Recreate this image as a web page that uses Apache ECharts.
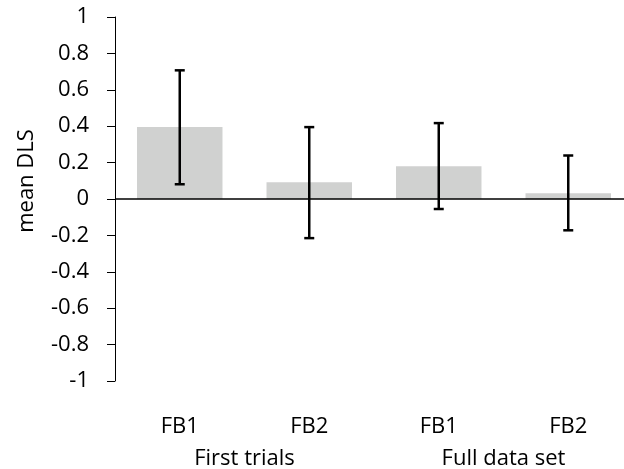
<!DOCTYPE html>
<html>
<head>
<meta charset="utf-8">
<script src="https://cdn.jsdelivr.net/npm/echarts@6/dist/echarts.min.js"></script>
<style>html,body{margin:0;padding:0;background:#fff}#c{width:624px;height:469px}</style>
</head>
<body>
<div id="c"></div>
<script>
var categories = ['FB1', 'FB2', 'FB1', 'FB2'];
var groups = ['First trials', 'Full data set'];
var means = [0.395, 0.092, 0.18, 0.031];
var errLow = [0.081, -0.215, -0.055, -0.172];
var errHigh = [0.707, 0.395, 0.417, 0.239];

var FONT = 'Open Sans';
var chart = echarts.init(document.getElementById('c'));
var errData = categories.map(function (c, i) { return [i, errLow[i], errHigh[i]]; });

chart.setOption({
  animation: false,
  grid: { left: 115, width: 518, top: 17, height: 364, containLabel: false, outerBoundsMode: 'none' },
  xAxis: [
    {
      type: 'category', data: categories,
      axisLine: { show: false, onZero: false }, axisTick: { show: false },
      axisLabel: { color: '#000', fontFamily: FONT, fontSize: 22, margin: 35 }
    },
    {
      type: 'category', data: groups, position: 'bottom', offset: 0,
      axisLine: { show: false, onZero: false }, axisTick: { show: false },
      axisLabel: { color: '#000', fontFamily: FONT, fontSize: 22, margin: 67 }
    }
  ],
  yAxis: {
    type: 'value', min: -1, max: 1, interval: 0.2,
    name: 'mean DLS', nameLocation: 'middle', nameGap: 77, nameRotate: 90,
    nameTextStyle: { color: '#000', fontFamily: FONT, fontSize: 22, padding: [0, 0, 0, 36] },
    axisLine: { show: true, lineStyle: { color: '#000', width: 1 } },
    axisTick: { show: true, inside: false, length: 8, lineStyle: { color: '#000' } },
    axisLabel: { color: '#000', fontFamily: FONT, fontSize: 22, margin: 26 },
    splitLine: { show: false }
  },
  series: [
    {
      type: 'bar', data: means, barWidth: '66%', xAxisIndex: 0,
      itemStyle: { color: '#d0d1d0' },
      markLine: {
        silent: true, symbol: 'none', label: { show: false },
        lineStyle: { color: '#000', width: 1.5, type: 'solid' },
        data: [{ yAxis: 0 }]
      }
    },
    {
      type: 'custom', xAxisIndex: 0, data: errData,
      renderItem: function (params, api) {
        var x = api.value(0);
        var lo = api.coord([x, api.value(1)]);
        var hi = api.coord([x, api.value(2)]);
        var cap = 5;
        var st = { stroke: '#000', lineWidth: 2.5 };
        return {
          type: 'group', children: [
            { type: 'line', shape: { x1: hi[0], y1: hi[1], x2: lo[0], y2: lo[1] }, style: st },
            { type: 'line', shape: { x1: hi[0] - cap, y1: hi[1], x2: hi[0] + cap, y2: hi[1] }, style: st },
            { type: 'line', shape: { x1: lo[0] - cap, y1: lo[1], x2: lo[0] + cap, y2: lo[1] }, style: st }
          ]
        };
      },
      z: 5
    }
  ]
});
</script>
</body>
</html>
